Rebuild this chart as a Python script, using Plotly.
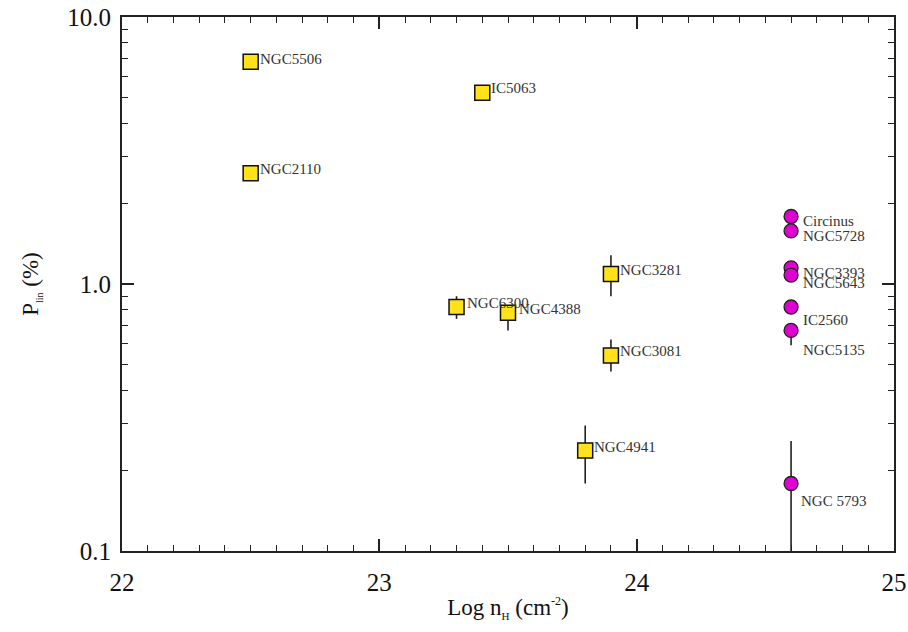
import math
import plotly.graph_objects as go

# Seyfert 2 sample: column density vs. linear polarisation
sq_names = ["NGC5506", "IC5063", "NGC2110", "NGC6300", "NGC4388",
            "NGC3281", "NGC3081", "NGC4941"]
sq_lognh = [22.5, 23.4, 22.5, 23.3, 23.5, 23.9, 23.9, 23.8]
sq_plin = [6.8, 5.2, 2.6, 0.82, 0.78, 1.09, 0.54, 0.238]
sq_err_hi = [0.45, 0.25, 0.12, 0.08, 0.04, 0.19, 0.08, 0.057]
sq_err_lo = [0.45, 0.25, 0.12, 0.08, 0.11, 0.19, 0.07, 0.059]

ci_names = ["Circinus", "NGC5728", "NGC3393", "NGC5643", "IC2560",
            "NGC5135", "NGC 5793"]
ci_lognh = [24.6, 24.6, 24.6, 24.6, 24.6, 24.6, 24.6]
ci_plin = [1.79, 1.58, 1.15, 1.08, 0.82, 0.67, 0.179]
ci_err_hi = [0.03, 0.03, 0.03, 0.03, 0.05, 0.03, 0.079]
ci_err_lo = [0.03, 0.03, 0.03, 0.03, 0.05, 0.08, 0.12]

y_ticks = [0.1, 1.0, 10.0]
y_ticktext = ["0.1", "1.0", "10.0"]
y_minor = [0.2, 0.3, 0.4, 0.5, 0.6, 0.7, 0.8, 0.9, 2, 3, 4, 5, 6, 7, 8, 9]
x_ticks = [22, 23, 24, 25]

# label offsets in pixels (dx, dy) from each marker
sq_label_off = [(7, 3), (7, 5), (7, 4), (8, 4), (9, 4), (7, 4), (7, 4), (7, 3)]
ci_label_off = [(10, -5), (10, -5), (10, -5), (10, -8), (10, -13), (10, -20), (8, -18)]

SERIF = "Liberation Serif"

fig = go.Figure()

fig.add_trace(go.Scatter(
    x=sq_lognh, y=sq_plin, mode="markers",
    marker=dict(symbol="square", size=15, color="#FFE21A",
                line=dict(color="#111111", width=1.5)),
    error_y=dict(type="data", symmetric=False, array=sq_err_hi,
                 arrayminus=sq_err_lo, color="#222222", thickness=1.6, width=0),
    showlegend=False, hoverinfo="skip"))

fig.add_trace(go.Scatter(
    x=ci_lognh, y=ci_plin, mode="markers",
    marker=dict(symbol="circle", size=14, color="#E100D2",
                line=dict(color="#222222", width=1.3)),
    error_y=dict(type="data", symmetric=False, array=ci_err_hi,
                 arrayminus=ci_err_lo, color="#222222", thickness=1.6, width=0),
    showlegend=False, hoverinfo="skip"))

for names, xs, ys, offs in [(sq_names, sq_lognh, sq_plin, sq_label_off),
                            (ci_names, ci_lognh, ci_plin, ci_label_off)]:
    for n, x, y, (dx, dy) in zip(names, xs, ys, offs):
        fig.add_annotation(x=x, y=math.log10(y), yref="y", xref="x",
                           text=n, showarrow=False, xanchor="left",
                           yanchor="middle", xshift=dx, yshift=dy,
                           font=dict(family=SERIF, size=15, color="#333333"))

axis_common = dict(showline=True, linecolor="#222222", linewidth=2,
                   mirror="ticks", ticks="inside", tickcolor="#222222",
                   tickwidth=1.5, showgrid=False, zeroline=False,
                   automargin=False,
                   tickfont=dict(family=SERIF, size=25, color="#111111"))

fig.update_layout(
    width=908, height=632,
    margin=dict(l=122, r=14, t=17, b=81),
    paper_bgcolor="white", plot_bgcolor="white",
    xaxis=dict(range=[22, 25], tickvals=x_ticks, ticklen=12,
               ticklabelstandoff=8,
               minor=dict(ticks="inside", dtick=0.1, ticklen=6,
                          tickcolor="#222222", tickwidth=1.2),
               title=dict(text="Log n<sub><span style='font-size:11px'>H</span></sub>"
                               " (cm<sup><span style='font-size:12px'>-2</span></sup>)",
                          font=dict(family=SERIF, size=23, color="#111111"),
                          standoff=4),
               **axis_common),
    yaxis=dict(type="log", range=[-1, 1], tickvals=y_ticks,
               ticktext=y_ticktext, ticklen=12, ticklabelstandoff=4,
               minor=dict(ticks="inside", tickvals=y_minor, ticklen=6,
                          tickcolor="#222222", tickwidth=1.2),
               title=dict(text="P<sub><span style='font-size:10px'>lin</span></sub> (%)",
                          font=dict(family=SERIF, size=23, color="#111111"),
                          standoff=22),
               **axis_common),
)

fig.write_html("out.html")
